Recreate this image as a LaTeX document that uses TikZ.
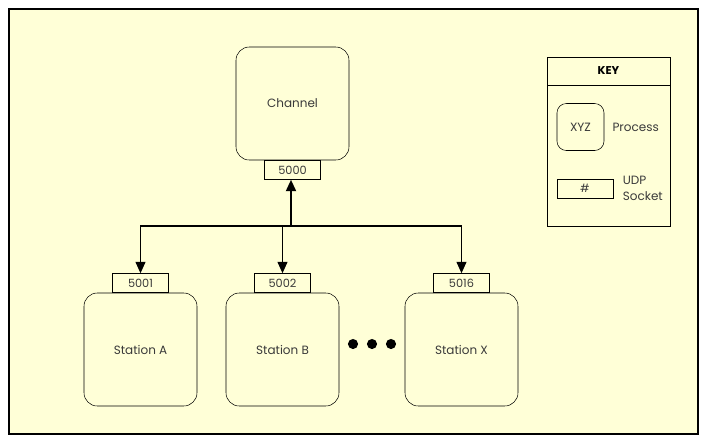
\documentclass[tikz,border=0pt]{standalone}
\usepackage{fontspec}
\setmainfont{Poppins}
\usepackage{tikz}
\usepackage{xcolor}
\usetikzlibrary{positioning,arrows.meta}
\definecolor{creamyellow}{HTML}{FFFFD7}
\definecolor{inkgray}{HTML}{3A3A3A}

\tikzset{
  procbox/.style={draw, rounded corners=10pt, minimum width=84.75pt, minimum height=84.75pt, text=inkgray, font=\fontsize{9}{11}\selectfont},
  sockbox/.style={draw, minimum width=42pt, minimum height=14.25pt, inner sep=0pt, text=inkgray, font=\fontsize{8.5}{10}\selectfont},
  link/.style={-{Triangle[length=8.5pt, width=7.5pt]}, line width=0.8pt}
}

\begin{document}
\begin{tikzpicture}[x=0.75pt, y=-0.75pt]
                \useasboundingbox (0,0) rectangle (708,444);
                \draw[fill=creamyellow, line width=0.8pt] (9,9) rectangle (698,434);

                % channel and its socket
                \node[procbox] (chan) at (292.5,103.5) {Channel};
                \node[sockbox, below=0pt of chan] (chansock) {5000};

                % stations
                \node[procbox] (staA) at (140.5,349.5) {Station A};
                \node[procbox] (staB) at (282.5,349.5) {Station B};
                \node[procbox] (staX) at (461.5,349.5) {Station X};
                \node[sockbox, above=0pt of staA] (sockA) {5001};
                \node[sockbox, above=0pt of staB] (sockB) {5002};
                \node[sockbox, above=0pt of staX] (sockX) {5016};

                \foreach \dx in {353,372,391}
                    \fill (\dx,344) circle (3.8pt);

                % connectors
                \coordinate (bus) at (291,226);
                \draw[link] (bus) -| (sockA.north);
                \draw[link] (bus) -| (sockX.north);
                \draw[link] (sockB.north |- bus) -- (sockB.north);
                \draw[link, line width=1.4pt] (bus) -- (bus |- chansock.south);

                % key
                \node[draw, minimum width=92.25pt, minimum height=126.75pt, inner sep=0pt] (key) at (608.5,141.5) {};
                \node[draw, minimum width=92.25pt, minimum height=21pt, inner sep=0pt, font=\fontsize{8.5}{10}\selectfont\bfseries, text=black, below=0pt of key.north] (keyhead) {KEY};
                \node[draw, rounded corners=7pt, minimum width=35.25pt, minimum height=35.25pt, inner sep=0pt, text=inkgray, font=\fontsize{9}{11}\selectfont] (keyproc) at (580.5,127) {XYZ};
                \node[right=6pt of keyproc, text=inkgray, font=\fontsize{9}{11}\selectfont, inner sep=0pt] (keyproctxt) {Process};
                \node[sockbox] (keysock) at (585,188.5) {\#};
                \node[right=7pt of keysock, align=left, text=inkgray, font=\fontsize{9}{12}\selectfont, inner sep=0pt] (keysocktxt) {UDP\\Socket};
            \end{tikzpicture}
\end{document}
